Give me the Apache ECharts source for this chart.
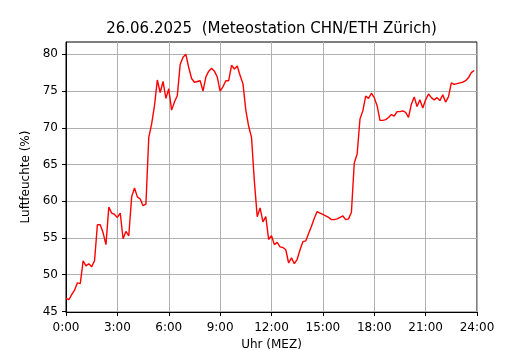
<!DOCTYPE html>
<html>
<head>
<meta charset="utf-8">
<script src="https://cdn.jsdelivr.net/npm/echarts@6/dist/echarts.min.js"></script>
<style>
  html, body { margin: 0; padding: 0; background: #fff; }
  #chart { width: 530px; height: 350px; }
</style>
</head>
<body>
<div id="chart"></div>
<script>
// Luftfeuchte in %, 10-Minuten-Werte von 0:00 bis 23:50
const humidity = [
  46.8, 46.6, 47.3, 47.9, 48.9, 48.8, 51.9, 51.2, 51.5, 51.1,
  51.9, 56.8, 56.8, 55.7, 54.1, 59.2, 58.4, 58.2, 57.8, 58.4,
  54.9, 55.9, 55.3, 60.6, 61.8, 60.6, 60.3, 59.4, 59.6, 68.7,
  70.5, 73.0, 76.5, 74.8, 76.3, 74.0, 75.3, 72.4, 73.5, 74.4,
  78.6, 79.6, 80.0, 78.2, 76.7, 76.2, 76.3, 76.4, 75.0, 76.9,
  77.7, 78.1, 77.7, 76.9, 75.0, 75.6, 76.4, 76.4, 78.5, 78.0,
  78.4, 77.1, 76.0, 72.4, 70.2, 68.7, 62.7, 57.9, 59.1, 57.2,
  57.9, 54.8, 55.3, 54.1, 54.4, 53.8, 53.7, 53.4, 51.6, 52.3,
  51.5, 52.1, 53.4, 54.5, 54.6, 55.6, 56.6, 57.7, 58.6, 58.4,
  58.2, 58.0, 57.8, 57.5, 57.5, 57.6, 57.8, 58.0, 57.5, 57.6,
  58.5, 65.2, 66.4, 71.2, 72.3, 74.3, 74.0, 74.7, 74.1, 73.0,
  71.0, 71.0, 71.1, 71.4, 71.8, 71.6, 72.2, 72.2, 72.3, 72.1,
  71.4, 73.2, 74.2, 72.9, 73.8, 72.7, 73.8, 74.6, 74.1, 73.8,
  74.1, 73.7, 74.5, 73.5, 74.2, 76.1, 75.9, 76.0, 76.1, 76.2,
  76.4, 76.8, 77.5, 77.8
];
const stepMinutes = 10;

const xTicks = [0, 3, 6, 9, 12, 15, 18, 21, 24];
const xTickLabels = ['0:00', '3:00', '6:00', '9:00', '12:00', '15:00', '18:00', '21:00', '24:00'];
const yTicks = [45, 50, 55, 60, 65, 70, 75, 80];

const titleText = '26.06.2025  (Meteostation CHN/ETH Zürich)';

const points = humidity.map((v, i) => [i * stepMinutes / 60, v]);

const font = 'DejaVu Sans';
const chart = echarts.init(document.getElementById('chart'));

chart.setOption({
  animation: false,
  backgroundColor: '#fff',
  // Titel ueber der Mitte der Zeichenflaeche, nicht der ganzen Seite
  graphic: [{
    type: 'text',
    x: 271.5,
    y: 29,
    style: {
      text: titleText,
      fontFamily: font, fontSize: 15, fill: '#000',
      align: 'center', verticalAlign: 'middle'
    }
  }],
  grid: {
    left: 66, right: 53, top: 42, bottom: 38,
    outerBoundsMode: 'none',
    containLabel: false,
    show: true, borderColor: '#000', borderWidth: 1
  },
  xAxis: {
    type: 'value',
    min: 0, max: 24, interval: 3,
    name: 'Uhr (MEZ)',
    nameLocation: 'middle',
    nameGap: 27,
    nameTextStyle: { fontFamily: font, fontSize: 12, color: '#000' },
    axisLine: { show: true, lineStyle: { color: '#000', width: 1 } },
    axisTick: { show: true, inside: false, length: 4, lineStyle: { color: '#000' } },
    axisLabel: {
      fontFamily: font, fontSize: 12, color: '#000', margin: 10,
      formatter: v => xTickLabels[xTicks.indexOf(v)] || ''
    },
    splitLine: { show: true, lineStyle: { color: '#b0b0b0', width: 1 } }
  },
  yAxis: {
    type: 'value',
    min: 44.93, max: 81.67,
    name: 'Luftfeuchte (%)',
    nameLocation: 'middle',
    nameGap: 31,
    nameTextStyle: { fontFamily: font, fontSize: 12, color: '#000' },
    axisLine: { show: true, lineStyle: { color: '#000', width: 1 } },
    axisTick: { show: true, inside: false, length: 4, customValues: yTicks, lineStyle: { color: '#000' } },
    axisLabel: {
      fontFamily: font, fontSize: 12, color: '#000', margin: 8,
      customValues: yTicks,
      formatter: v => String(v)
    },
    splitLine: { show: true, lineStyle: { color: '#b0b0b0', width: 1 } }
  },
  series: [{
    type: 'line',
    data: points,
    showSymbol: false,
    lineStyle: { color: '#ff0000', width: 1.4 },
    itemStyle: { color: '#ff0000' }
  }]
});
</script>
</body>
</html>
